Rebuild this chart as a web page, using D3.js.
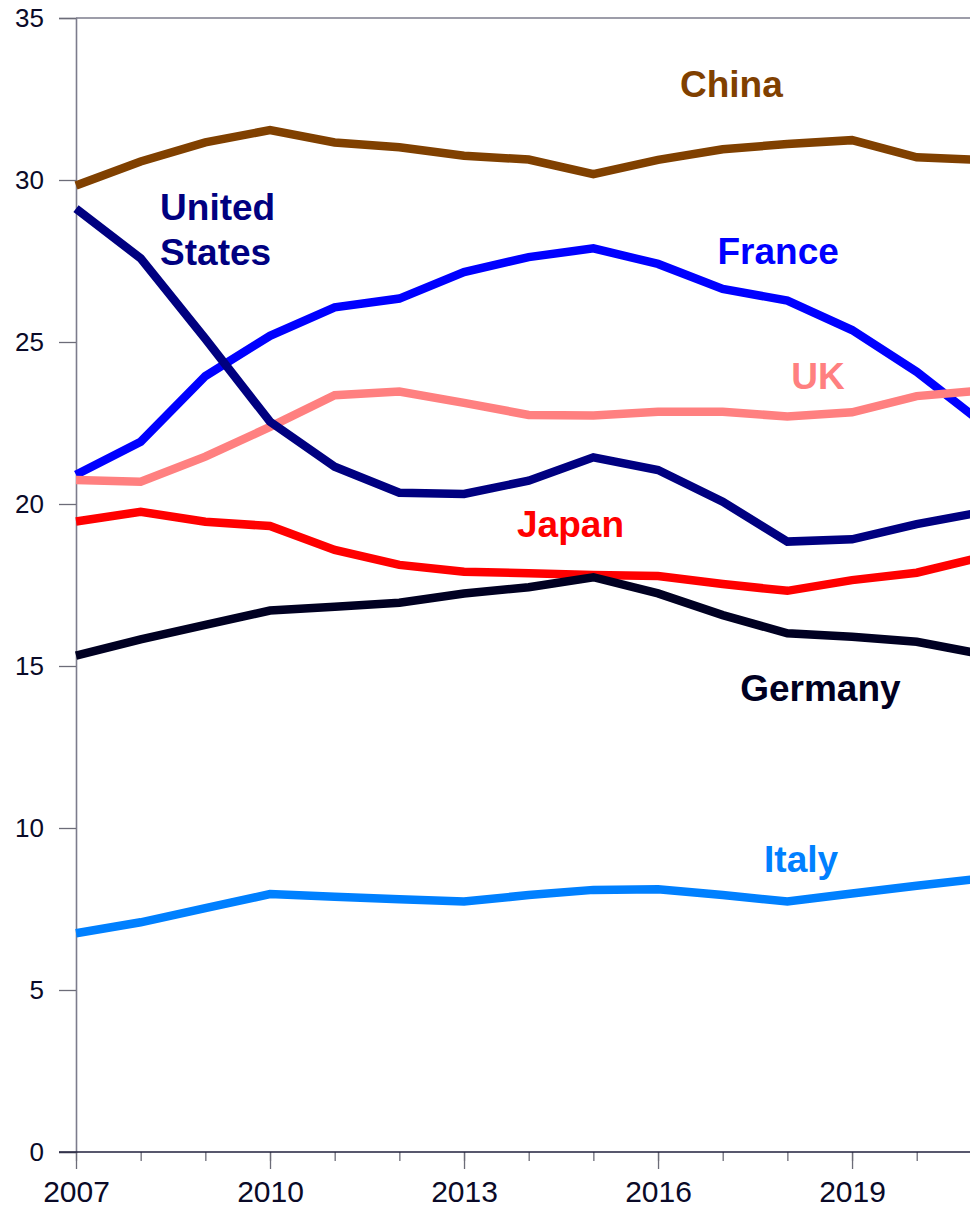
<!DOCTYPE html>
<html>
<head>
<meta charset="utf-8">
<script src="https://cdn.jsdelivr.net/npm/d3@7"></script>
<style>
  html, body { margin: 0; padding: 0; background: #ffffff; overflow: hidden; }
  svg { display: block; font-family: "Liberation Sans", Arial, sans-serif; }
</style>
</head>
<body>
<svg id="chart" width="970" height="1209"></svg>
<script>
// Years on the horizontal axis
const years = [2007, 2008, 2009, 2010, 2011, 2012, 2013, 2014, 2015, 2016, 2017, 2018, 2019, 2020, 2021];

// Series values, one per year
const china   = [29.83, 30.57, 31.16, 31.54, 31.16, 31.01, 30.75, 30.63, 30.18, 30.62, 30.95, 31.11, 31.23, 30.70, 30.62];
const us      = [29.12, 27.58, 25.10, 22.54, 21.15, 20.35, 20.31, 20.72, 21.44, 21.05, 20.07, 18.84, 18.91, 19.38, 19.75];
const france  = [20.90, 21.92, 23.95, 25.19, 26.07, 26.34, 27.16, 27.62, 27.89, 27.41, 26.64, 26.28, 25.37, 24.08, 22.52];
const uk      = [20.74, 20.69, 21.46, 22.38, 23.36, 23.47, 23.12, 22.75, 22.73, 22.85, 22.85, 22.70, 22.83, 23.33, 23.50];
const japan   = [19.46, 19.76, 19.45, 19.32, 18.58, 18.12, 17.91, 17.86, 17.81, 17.78, 17.53, 17.32, 17.65, 17.88, 18.36];
const germany = [15.32, 15.82, 16.27, 16.71, 16.83, 16.95, 17.24, 17.43, 17.74, 17.24, 16.57, 16.01, 15.90, 15.75, 15.37];
const italy   = [6.75, 7.09, 7.53, 7.96, 7.88, 7.80, 7.73, 7.93, 8.09, 8.11, 7.93, 7.73, 7.98, 8.22, 8.44];

// Axis ticks
const yTicks = [0, 5, 10, 15, 20, 25, 30, 35];
const xLabelYears = [2007, 2010, 2013, 2016, 2019];

// Series in drawing order (later ones sit on top)
const series = [
  { name: "Italy",   values: italy,   color: "#0080FF" },
  { name: "Japan",   values: japan,   color: "#FF0000" },
  { name: "Germany", values: germany, color: "#000022" },
  { name: "France",  values: france,  color: "#0000FF" },
  { name: "UK",      values: uk,      color: "#FF8080" },
  { name: "United States", values: us, color: "#000080" },
  { name: "China",   values: china,   color: "#804000" }
];

// Name labels, placed in data coordinates (year, value at baseline)
const labelSpots = {
  "China":   { lines: ["China"], at: [2016.34, 32.56] },
  "United States": { lines: ["United", "States"], at: [2008.30, 28.77] },
  "France":  { lines: ["France"], at: [2016.92, 27.41] },
  "UK":      { lines: ["UK"], at: [2018.06, 23.55] },
  "Japan":   { lines: ["Japan"], at: [2013.82, 18.98] },
  "Germany": { lines: ["Germany"], at: [2017.27, 13.92] },
  "Italy":   { lines: ["Italy"], at: [2017.64, 8.64] }
};

const svg = d3.select("#chart");
const plotLeft = 76, plotTop = 18, plotBottom = 1152, yearStep = 64.67;

const x = d3.scaleLinear()
  .domain([years[0], years[years.length - 1]])
  .range([plotLeft, plotLeft + yearStep * (years.length - 1)]);
const y = d3.scaleLinear().domain([0, 35]).range([plotBottom, plotTop]);

const axisText = "#0a0a28";

// Top frame of the plot area
svg.append("line")
  .attr("x1", plotLeft).attr("x2", 970)
  .attr("y1", y(35)).attr("y2", y(35))
  .attr("stroke", "#7c7c8c").attr("stroke-width", 1.3);

// Y axis
const yAxis = svg.append("g")
  .attr("transform", `translate(${plotLeft},0)`)
  .call(d3.axisLeft(y).tickValues(yTicks).tickSize(17).tickPadding(15).tickFormat(d3.format("d")));
yAxis.select(".domain").attr("stroke", "#7c7c8c").attr("stroke-width", 1.6);
yAxis.selectAll(".tick line").attr("stroke", "#6c6c78").attr("stroke-width", 1.3);
yAxis.selectAll(".tick text")
  .attr("fill", axisText)
  .style("font-size", "26px")
  .style("font-family", "'Liberation Sans', Arial, sans-serif");

// X axis: minor ticks every year
const xMinor = svg.append("g")
  .attr("transform", `translate(0,${plotBottom})`)
  .call(d3.axisBottom(x).tickValues(years).tickSize(9).tickFormat(""));
xMinor.select(".domain").remove();
xMinor.selectAll(".tick line").attr("stroke", "#6c6c78").attr("stroke-width", 1.3);

// X axis: labelled major ticks every third year
const xMajor = svg.append("g")
  .attr("transform", `translate(0,${plotBottom})`)
  .call(d3.axisBottom(x).tickValues(xLabelYears).tickSize(17).tickPadding(12).tickFormat(d3.format("d")));
xMajor.select(".domain").remove();
xMajor.selectAll(".tick line").attr("stroke", "#6c6c78").attr("stroke-width", 1.3);
xMajor.selectAll(".tick text")
  .attr("fill", axisText)
  .style("font-size", "30px")
  .style("font-family", "'Liberation Sans', Arial, sans-serif");

// Baseline along zero
svg.append("line")
  .attr("x1", plotLeft - 17).attr("x2", 970)
  .attr("y1", y(0)).attr("y2", y(0))
  .attr("stroke", "#20203c").attr("stroke-width", 1.6);

// Lines
const line = d3.line()
  .x((d, i) => x(years[i]))
  .y(d => y(d));

svg.append("g").selectAll("path")
  .data(series)
  .join("path")
  .attr("d", d => line(d.values))
  .attr("fill", "none")
  .attr("stroke", d => d.color)
  .attr("stroke-width", 8.5)
  .attr("stroke-linejoin", "miter");

// Series name labels
const labels = svg.append("g")
  .style("font-family", "'Liberation Sans', Arial, sans-serif")
  .style("font-weight", "bold")
  .style("font-size", "37px");

series.forEach(s => {
  const spot = labelSpots[s.name];
  const t = labels.append("text")
    .attr("x", x(spot.at[0]))
    .attr("y", y(spot.at[1]))
    .attr("fill", s.color);
  spot.lines.forEach((txt, i) => {
    t.append("tspan")
      .attr("x", x(spot.at[0]))
      .attr("dy", i === 0 ? 0 : 45)
      .text(txt);
  });
});
</script>
</body>
</html>
